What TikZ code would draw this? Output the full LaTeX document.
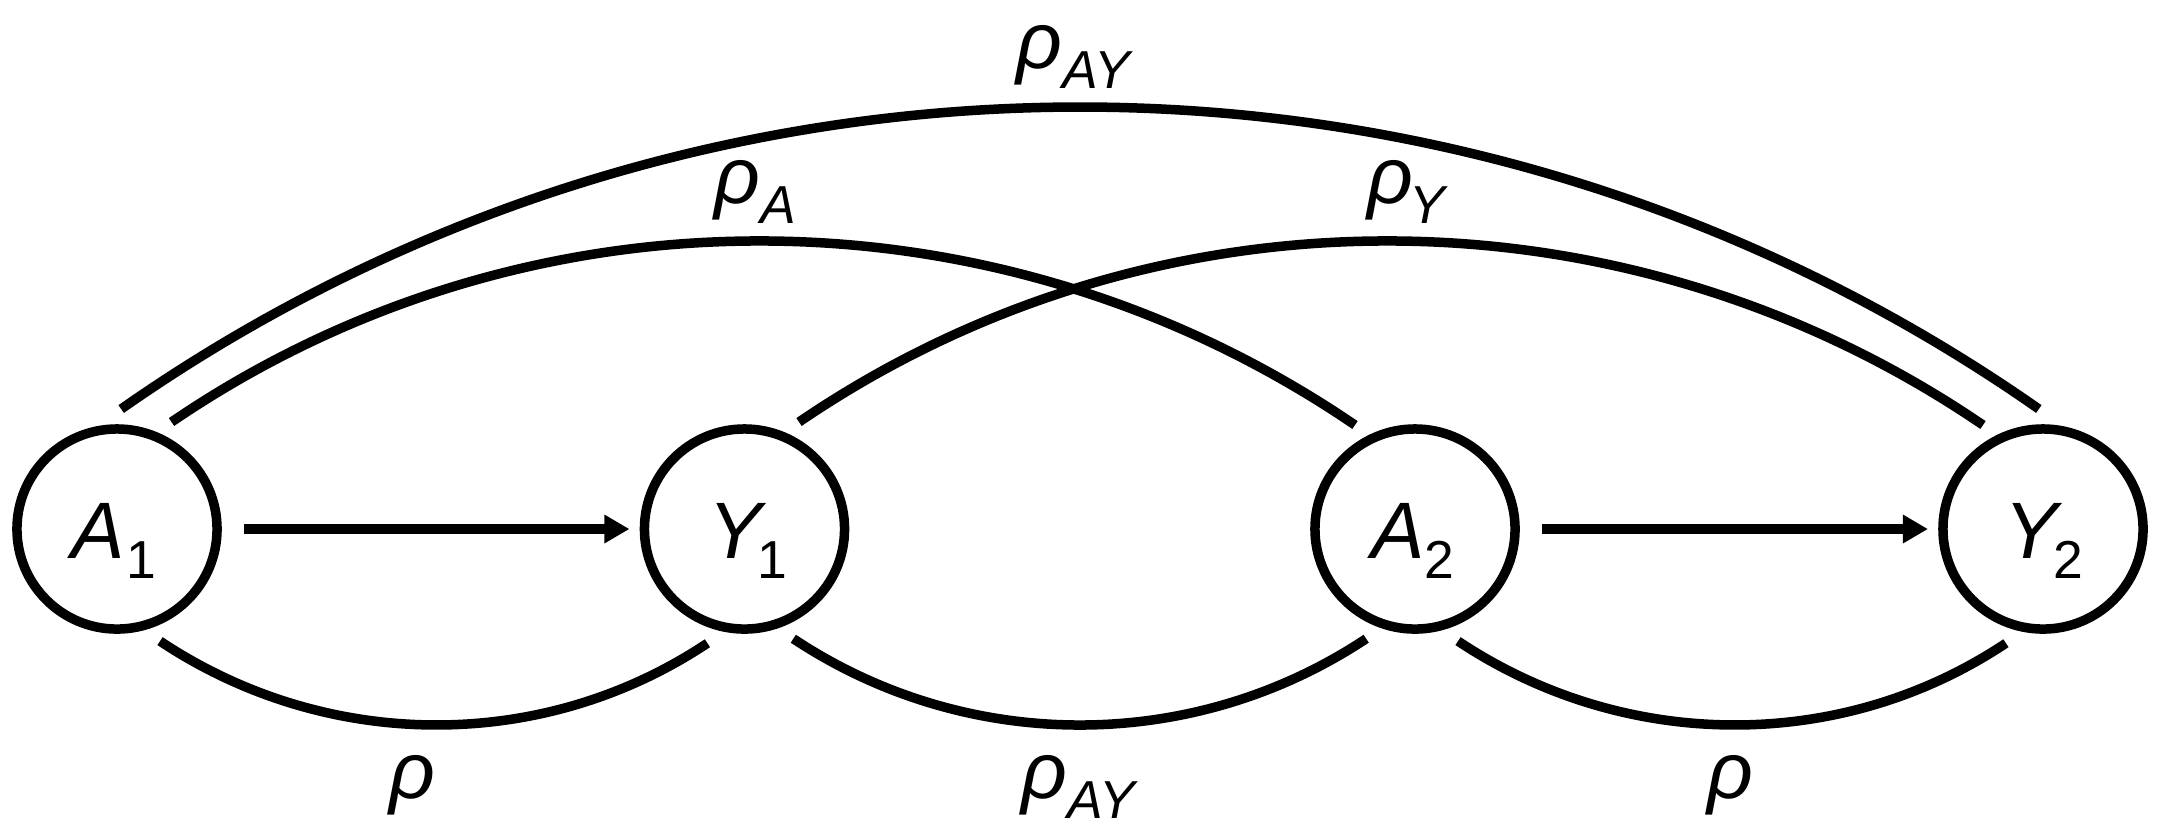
\documentclass[tikz,border=0pt]{standalone}
\usepackage{fontspec}
\setmainfont{Liberation Sans}
\usetikzlibrary{arrows.meta,calc}
\newcommand\mainsz{\fontsize{22.76}{26}\selectfont}
\newcommand\subsz{\fontsize{15.2}{16}\selectfont}
\newcommand\nsub[1]{\raisebox{-5.9pt}{\subsz #1}}
\begin{document}
\begin{tikzpicture}[x=0.01cm,y=0.01cm,
  state/.style={circle,draw,line width=0.095cm,minimum size=2cm,inner sep=0pt,outer sep=0.2cm},
  link/.style={line width=0.095cm},
  causal/.style={line width=0.095cm,-{Triangle[length=0.25cm,width=0.27cm]},shorten <=0.065cm,shorten >=-0.05cm},
  lbl/.style={inner sep=0pt,anchor=base,font=\mainsz}]
\useasboundingbox (0,0) rectangle (2161,-835);
% circles
\node[state] (A1) at (117,-529) {};
\node[state] (Y1) at (744.5,-529) {};
\node[state] (A2) at (1415,-529) {};
\node[state] (Y2) at (2043,-529) {};
% node texts
\node[lbl] (tA1) at (114,-558) {\textit{A}\kern0.5pt\nsub{1}};
\node[lbl] (tY1) at (748,-558) {\textit{Y}\kern-2.5pt\nsub{1}};
\node[lbl] (tA2) at (1413,-558) {\textit{A}\nsub{2}};
\node[lbl] (tY2) at (2044,-558) {\textit{Y}\kern-2.5pt\nsub{2}};
% causal arrows
\draw[causal] (A1.east) -- (Y1.west);
\draw[causal] (A2.east) -- (Y2.west);
% correlation arcs, top
\draw[link] (A1.88) .. controls +(35:702) and +(145:702) .. (Y2.92);
\draw[link] (A1.63) .. controls +(34.3:432) and +(145.7:432) .. (A2.120);
\draw[link] (Y1.63) .. controls +(34.3:432) and +(145.7:432) .. (Y2.120);
% correlation arcs, bottom
\draw[link] (A1.-69) .. controls +(-33.7:199) and +(-146.3:199) .. (Y1.-108);
\draw[link] (Y1.-66) .. controls +(-33.6:208) and +(-146.4:208) .. (A2.-114);
\draw[link] (A2.-69) .. controls +(-33.7:199) and +(-146.3:199) .. (Y2.-108);
% labels
\node[lbl] (lAYt) at (1075,-68) {\textit{ρ}\nsub{\textit{AY}}};
\node[lbl] (lA) at (755,-203) {\textit{ρ}\nsub{\textit{A}}};
\node[lbl] (lY) at (1408,-203) {\textit{ρ}\kern-1pt\nsub{\textit{Y}}};
\node[lbl] (lr1) at (412.5,-798) {\textit{ρ}};
\node[lbl] (lAYb) at (1080,-798) {\textit{ρ}\nsub{\textit{AY}}};
\node[lbl] (lr2) at (1730,-798) {\textit{ρ}};
\end{tikzpicture}
\end{document}
